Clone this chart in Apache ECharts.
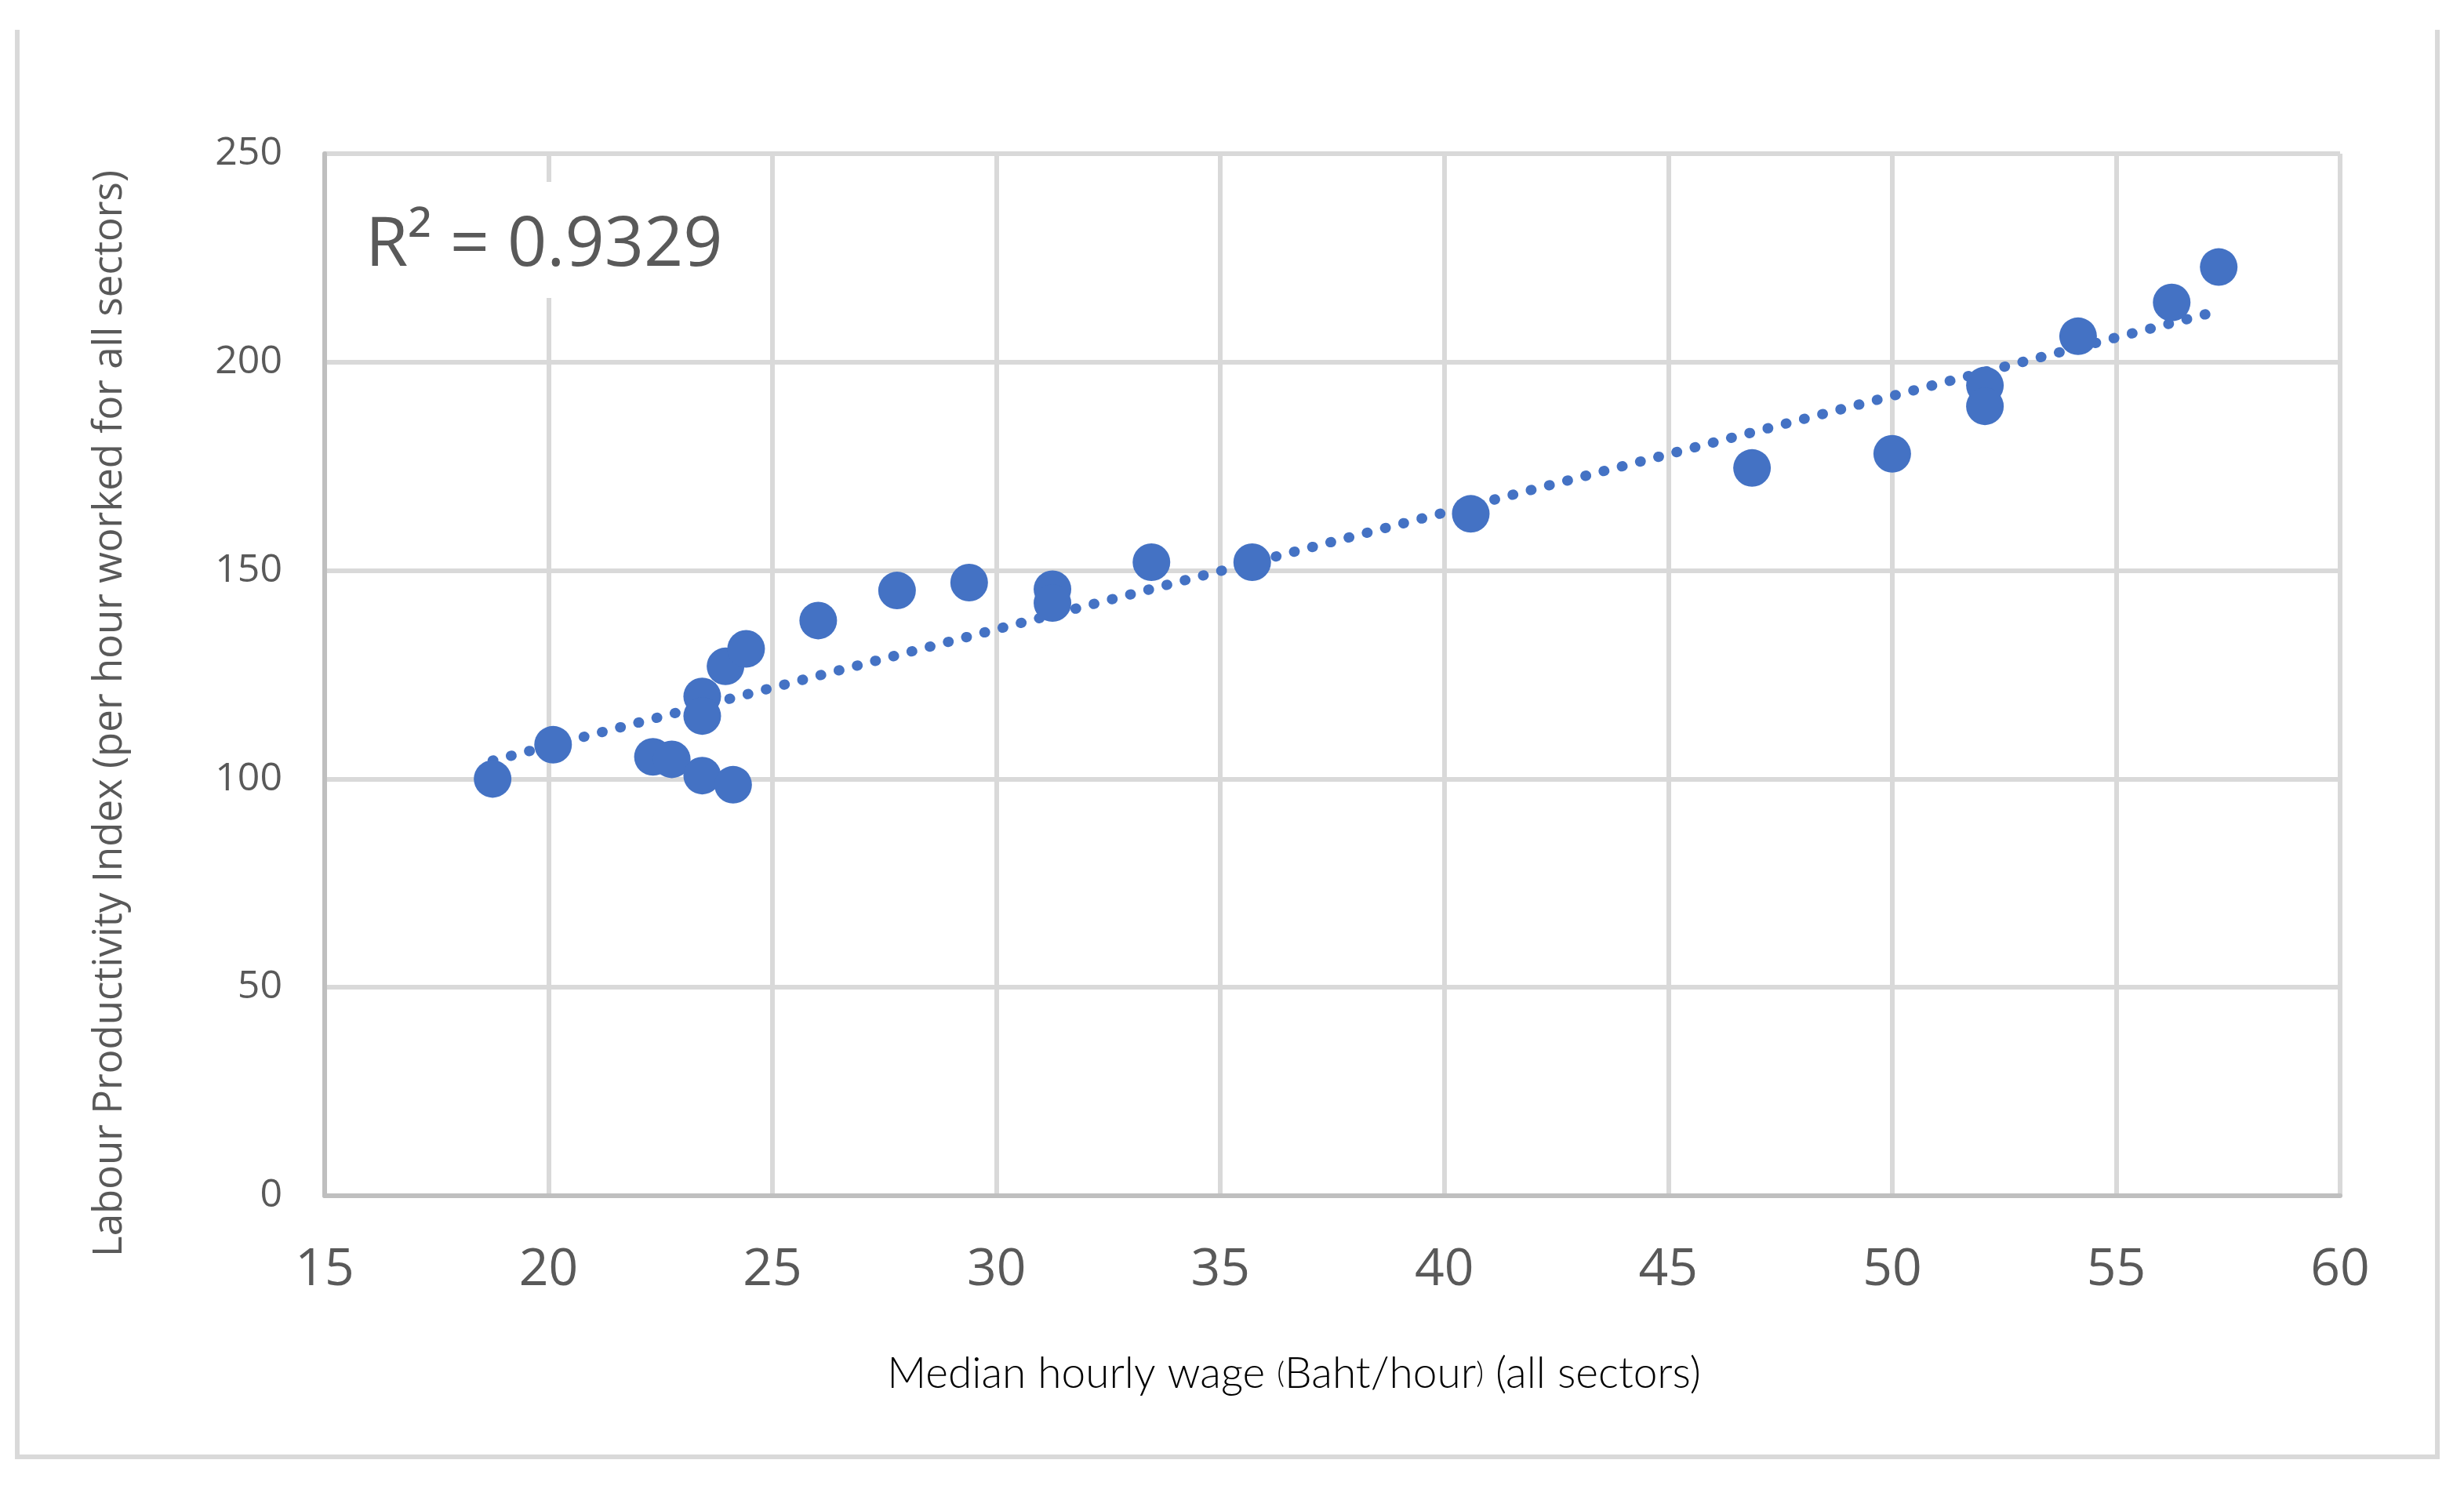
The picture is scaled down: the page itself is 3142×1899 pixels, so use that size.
<!DOCTYPE html>
<html>
<head>
<meta charset="utf-8">
<script src="https://cdn.jsdelivr.net/npm/echarts@6/dist/echarts.min.js"></script>
<style>
html,body{margin:0;padding:0;background:#fff;}
#chart{width:3142px;height:1899px;}
</style>
</head>
<body>
<div id="chart"></div>
<script>
// Median hourly wage (Baht/hour)
var wage = [18.75, 20.1, 22.33, 22.75, 23.43, 23.43, 23.43, 24.12, 23.95, 24.41, 26.02, 27.78, 29.39, 31.25, 31.25, 33.46, 35.71, 40.59, 46.87, 50.0, 52.07, 52.07, 54.15, 56.24, 57.29];
// Labour Productivity Index
var productivity = [100.0, 108.2, 105.3, 104.7, 119.8, 115.1, 100.8, 98.6, 127.0, 131.2, 138.0, 145.2, 147.1, 145.5, 142.2, 152.0, 152.0, 163.6, 174.6, 178.0, 194.4, 189.4, 206.2, 214.3, 222.8];
// Linear trendline end points
var trendX = [18.75, 57.29];
var trendY = [104.4, 212.3];
var rSquaredLabel = 'R² = 0.9329';
var xTicks = {min: 15, max: 60, interval: 5};
var yTicks = {min: 0, max: 250, interval: 50};
var xTitle = ['Median hourly wage ', '(', 'Baht/hour', ')', ' (all sectors)'];
var yTitle = 'Labour Productivity Index (per hour worked for all sectors)';

var points = wage.map(function (x, i) { return [x, productivity[i]]; });
var trend = trendX.map(function (x, i) { return [x, trendY[i]]; });

var chart = echarts.init(document.getElementById('chart'), null, {renderer: 'canvas'});
var textColor = '#595959';
chart.setOption({
  backgroundColor: '#ffffff',
  animation: false,
  grid: {left: 414, right: 158, top: 196, bottom: 374, containLabel: false},
  xAxis: {
    type: 'value', min: xTicks.min, max: xTicks.max, interval: xTicks.interval,
    axisLine: {show: true, onZero: false, lineStyle: {color: '#bfbfbf', width: 6}},
    axisTick: {show: false},
    axisLabel: {color: textColor, fontFamily: 'Open Sans', fontSize: 66, margin: 62},
    splitLine: {show: true, lineStyle: {color: '#d9d9d9', width: 6}}
  },
  yAxis: {
    type: 'value', min: yTicks.min, max: yTicks.max, interval: yTicks.interval,
    axisLine: {show: true, onZero: false, lineStyle: {color: '#bfbfbf', width: 6}},
    axisTick: {show: false},
    axisLabel: {color: textColor, fontFamily: 'Open Sans', fontSize: 50, margin: 54},
    splitLine: {show: true, lineStyle: {color: '#d9d9d9', width: 6}}
  },
  series: [
    {
      type: 'line', data: trend, showSymbol: false, z: 2,
      lineStyle: {color: '#4472C4', width: 13, type: [1, 23], cap: 'round'}
    },
    {
      type: 'scatter', data: points, symbol: 'circle', symbolSize: 48, z: 3,
      itemStyle: {color: '#4472C4', opacity: 1}
    }
  ],
  graphic: [
    {
      type: 'polyline', z: 10,
      shape: {points: [[22, 38], [22, 1858], [3108, 1858], [3108, 38]]},
      style: {stroke: '#d9d9d9', lineWidth: 6, fill: null}
    },
    {
      type: 'rect', z: 10,
      shape: {x: 440, y: 232, width: 520, height: 148},
      style: {fill: '#ffffff'}
    },
    {
      type: 'text', z: 11, x: 466, y: 314,
      style: {text: rSquaredLabel, font: '88px "Open Sans"', fill: textColor, align: 'left', verticalAlign: 'middle'}
    },
    {
      type: 'text', z: 11, x: 1650, y: 1752,
      style: {
        text: '{a|' + xTitle[0] + '}{p|' + xTitle[1] + '}{a|' + xTitle[2] + '}{p|' + xTitle[3] + '}{a|' + xTitle[4] + '}',
        align: 'center', verticalAlign: 'middle',
        rich: {
          a: {fontFamily: 'Lato', fontWeight: 300, fontSize: 55, color: textColor},
          p: {fontFamily: 'Lato', fontWeight: 300, fontSize: 38, color: textColor}
        }
      }
    },
    {
      type: 'text', z: 11, x: 140, y: 910, rotation: Math.PI / 2,
      style: {text: yTitle, font: '51px "Open Sans"', fill: textColor, align: 'center', verticalAlign: 'middle'}
    }
  ]
});
</script>
</body>
</html>
